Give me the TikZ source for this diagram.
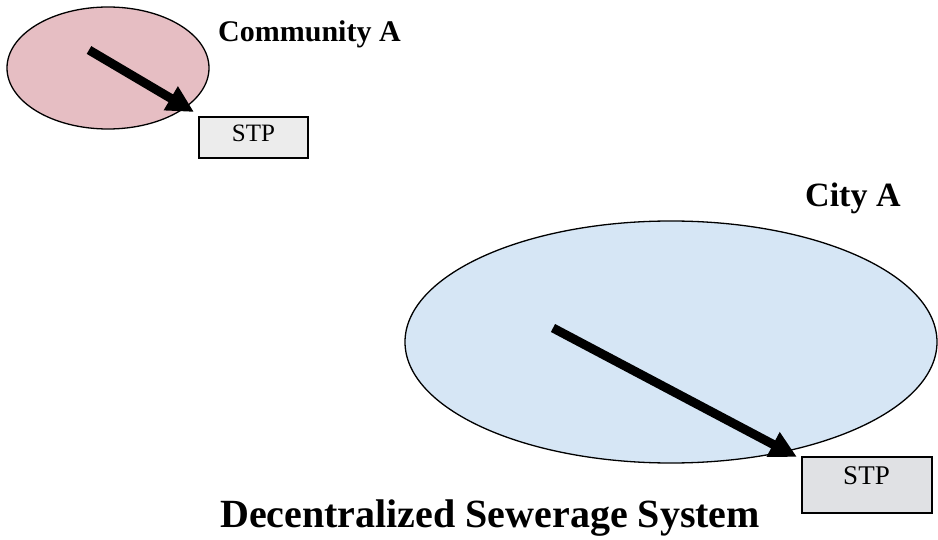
\documentclass[tikz,border=0pt]{standalone}
\usepackage{fontspec}
\setmainfont{Liberation Serif}
\usetikzlibrary{arrows.meta,shapes.geometric}

\definecolor{rosefill}{RGB}{230,190,195}
\definecolor{skyfill}{RGB}{214,230,245}
\definecolor{stpfill}{RGB}{236,236,236}
\definecolor{stpfillB}{RGB}{224,225,228}

\begin{document}
\begin{tikzpicture}[x=1pt,y=-1pt,
  region/.style={ellipse, draw=black, line width=1.3pt, inner sep=0pt},
  plant/.style={rectangle, draw=black, line width=1.8pt, inner sep=0pt},
  flow/.style={line width=9pt, -{Triangle[length=27pt,width=26pt]}},
  caption/.style={font=\bfseries, inner sep=0pt, anchor=base west}]

  \useasboundingbox (0,0) rectangle (938,540);

  % community with its own treatment plant
  \node[region, fill=rosefill, minimum width=202pt, minimum height=122pt] (community) at (108,68) {};
  \node[plant, fill=stpfill, minimum width=109pt, minimum height=41pt] (stpA) at (253.5,137.5) {};
  \node[inner sep=0pt, anchor=base, font=\fontsize{25}{30}\selectfont] (stpAtext) at (253.5,141.7) {STP};
  \node[caption, font=\fontsize{30}{36}\selectfont\bfseries] (communityname) at (218,41.7) {Community A};
  \coordinate (srcA) at (89,50);
  \coordinate (tipA) at (194,112);
  \draw[flow] (srcA) -- (tipA);

  % city with its own treatment plant
  \node[region, fill=skyfill, minimum width=532pt, minimum height=242pt] (city) at (671,342) {};
  \node[plant, fill=stpfillB, minimum width=130pt, minimum height=56pt] (stpB) at (867,485) {};
  \node[inner sep=0pt, anchor=base, font=\fontsize{27}{32}\selectfont] (stpBtext) at (866.5,484) {STP};
  \node[caption, font=\fontsize{34}{40}\selectfont\bfseries] (cityname) at (805,207) {City A};
  \coordinate (srcB) at (553,328);
  \coordinate (tipB) at (797,457);
  \draw[flow] (srcB) -- (tipB);

  % title
  \node[caption, font=\fontsize{40}{48}\selectfont\bfseries] (title) at (220,527) {Decentralized Sewerage System};
\end{tikzpicture}
\end{document}
